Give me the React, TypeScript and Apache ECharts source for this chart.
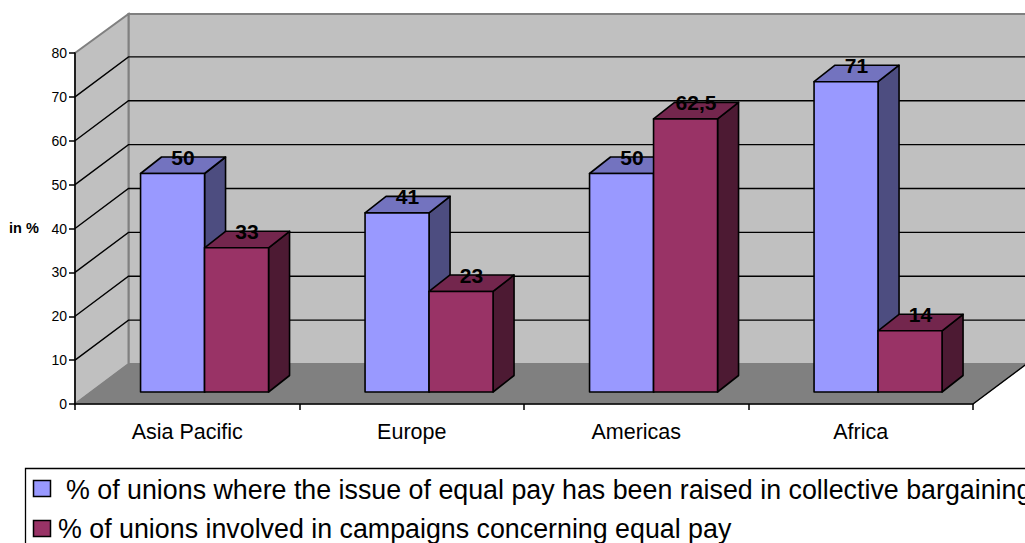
import React, { useEffect, useRef } from "react";
import * as echarts from "echarts";

const categories = ["Asia Pacific", "Europe", "Americas", "Africa"];
const bargainingName = "% of unions where the issue of equal pay has been raised in collective bargaining";
const campaignsName = "% of unions involved in campaigns concerning equal pay";
const bargainingValues = [50, 41, 50, 71];
const campaignsValues = [33, 23, 62.5, 14];
const yTicks = [10, 20, 30, 40, 50, 60, 70, 80];

const FONT = '"Liberation Sans", Arial, sans-serif';
const WALL_DX = 53.5;
const WALL_DY = -40;
const BAR_DX = 21;
const BAR_DY = -16.5;
const BAR_SHIFT_X = 17.3;
const BAR_SHIFT_Y = -12;
const BAR_WIDTH_RATIO = 64 / 224.5;
const VALUE_SCALE = 0.996;

const renderWalls = (_params: any, api: any) => {
  const band = api.size([1, 0])[0];
  const [xCenter, y0] = api.coord([0, 0]);
  const [, yTop] = api.coord([0, 80]);
  const x0 = xCenter - band / 2;
  const xEnd = x0 + band * categories.length;
  const bx = x0 + WALL_DX;
  const by = y0 + WALL_DY;
  const byTop = yTop + WALL_DY + 1;
  const children: any[] = [
    {
      type: "polygon",
      shape: { points: [[bx, byTop], [xEnd + WALL_DX, byTop], [xEnd + WALL_DX, by], [bx, by]] },
      style: { fill: "#c0c0c0", stroke: "#808080", lineWidth: 2 },
    },
    {
      type: "polygon",
      shape: { points: [[x0, yTop], [bx, byTop], [bx, by], [x0, y0]] },
      style: { fill: "#c0c0c0", stroke: "#808080", lineWidth: 2 },
    },
    {
      type: "polygon",
      shape: { points: [[x0, y0], [xEnd, y0], [xEnd + WALL_DX, by], [bx, by]] },
      style: { fill: "#808080", stroke: "#808080", lineWidth: 1 },
    },
    {
      type: "line",
      shape: { x1: xEnd, y1: y0, x2: xEnd + WALL_DX, y2: by },
      style: { stroke: "#000", lineWidth: 1.5 },
    },
  ];
  yTicks.slice(0, -1).forEach((tick) => {
    const y = api.coord([0, tick])[1];
    children.push({
      type: "polyline",
      shape: { points: [[x0, y], [bx, y + WALL_DY], [xEnd + WALL_DX, y + WALL_DY]] },
      style: { fill: "none", stroke: "#000", lineWidth: 1.4 },
    });
  });
  return { type: "group", children };
};

// One extruded column: front face, side face, top face and the value above it.
const makeBarRenderer = (side: -1 | 1, front: string, top: string, flank: string) => (_params: any, api: any) => {
  const value = api.value(1);
  const [cx, y0] = api.coord([api.value(0), 0]);
  const yv = api.coord([api.value(0), value])[1];
  const w = api.size([1, 0])[0] * BAR_WIDTH_RATIO;
  const xl = cx + BAR_SHIFT_X + (side < 0 ? -w : 0);
  const xr = xl + w;
  const yb = y0 + BAR_SHIFT_Y;
  const yt = yb - (y0 - yv) * VALUE_SCALE;
  const edge = { stroke: "#000", lineWidth: 1.6, lineJoin: "round" };
  return {
    type: "group",
    children: [
      {
        type: "polygon",
        shape: { points: [[xr, yt], [xr + BAR_DX, yt + BAR_DY], [xr + BAR_DX, yb + BAR_DY], [xr, yb]] },
        style: { fill: flank, ...edge },
      },
      {
        type: "polygon",
        shape: { points: [[xl, yt], [xl + BAR_DX, yt + BAR_DY], [xr + BAR_DX, yt + BAR_DY], [xr, yt]] },
        style: { fill: top, ...edge },
      },
      {
        type: "polygon",
        shape: { points: [[xl, yt], [xr, yt], [xr, yb], [xl, yb]] },
        style: { fill: front, ...edge },
      },
      {
        type: "text",
        z2: 20,
        style: {
          x: (xl + xr) / 2 + BAR_DX / 2,
          y: yt + BAR_DY + 0.5,
          text: String(value).replace(".", ","),
          font: `bold 21px ${FONT}`,
          fill: "#000",
          align: "center",
          verticalAlign: "middle",
        },
      },
    ],
  };
};

const seriesData = (values: number[]) => values.map((v, i) => [i, v]);

const legendGraphic = [
  {
    type: "rect",
    shape: { x: 25.5, y: 468.5, width: 1100, height: 200 },
    style: { fill: "#fff", stroke: "#000", lineWidth: 1.3 },
    z: 1,
  },
  {
    type: "rect",
    shape: { x: 33.5, y: 480.5, width: 17, height: 16 },
    style: { fill: "#9999ff", stroke: "#000", lineWidth: 1.5 },
    z: 2,
  },
  {
    type: "rect",
    shape: { x: 33.5, y: 520.5, width: 17, height: 16 },
    style: { fill: "#993366", stroke: "#000", lineWidth: 1.5 },
    z: 2,
  },
  {
    type: "text",
    x: 66,
    y: 490,
    style: { text: bargainingName, font: `26.8px ${FONT}`, fill: "#000", verticalAlign: "middle" },
    z: 2,
  },
  {
    type: "text",
    x: 58,
    y: 529,
    style: { text: campaignsName, font: `26.8px ${FONT}`, fill: "#000", verticalAlign: "middle" },
    z: 2,
  },
  {
    type: "text",
    x: 9,
    y: 228,
    style: { text: "in %", font: `bold 14.5px ${FONT}`, fill: "#000", verticalAlign: "middle" },
    z: 2,
  },
];

export default function App() {
  const ref = useRef<HTMLDivElement>(null);

  useEffect(() => {
    if (!ref.current) return;
    const chart = echarts.init(ref.current, undefined, { renderer: "svg" });
    chart.setOption({
      animation: false,
      backgroundColor: "#fff",
      grid: { left: 75, top: 53, width: 898, height: 351 },
      xAxis: {
        type: "category",
        data: categories,
        z: 10,
        axisLine: { lineStyle: { color: "#000", width: 1.5 } },
        axisTick: { show: true, alignWithLabel: false, length: 6, lineStyle: { color: "#000", width: 1.5 } },
        axisLabel: { color: "#000", fontFamily: FONT, fontSize: 21.5, margin: 17 },
      },
      yAxis: {
        type: "value",
        min: 0,
        max: 80,
        interval: 10,
        z: 10,
        axisLine: { show: true, lineStyle: { color: "#000", width: 1.5 } },
        axisTick: { show: true, length: 6, lineStyle: { color: "#000", width: 1.5 } },
        axisLabel: { color: "#000", fontFamily: FONT, fontSize: 14, margin: 8 },
        splitLine: { show: false },
      },
      graphic: legendGraphic,
      series: [
        {
          type: "custom",
          name: "walls",
          silent: true,
          z: 1,
          renderItem: renderWalls,
          data: [[0, 0]],
          encode: { x: 0, y: 1 },
        },
        {
          type: "custom",
          name: bargainingName,
          z: 3,
          renderItem: makeBarRenderer(-1, "#9999ff", "#7373bf", "#4d4d80"),
          data: seriesData(bargainingValues),
          encode: { x: 0, y: 1 },
        },
        {
          type: "custom",
          name: campaignsName,
          z: 4,
          renderItem: makeBarRenderer(1, "#993366", "#73264d", "#4d1a33"),
          data: seriesData(campaignsValues),
          encode: { x: 0, y: 1 },
        },
      ],
    });
    return () => chart.dispose();
  }, []);

  return <div ref={ref} style={{ position: "absolute", left: 0, top: 0, width: 1025, height: 543 }} />;
}
